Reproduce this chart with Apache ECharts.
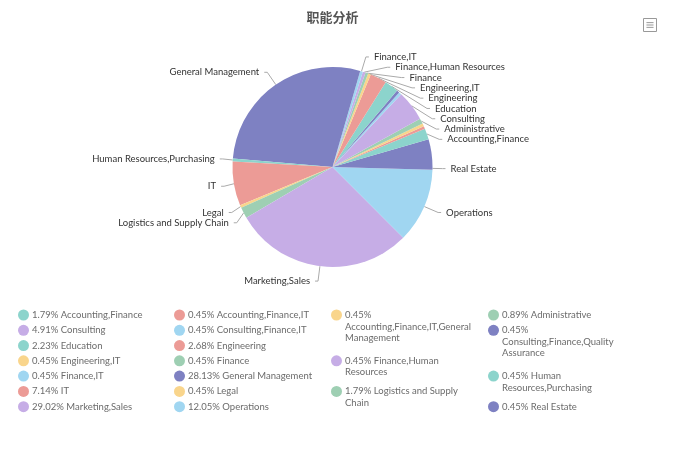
<!DOCTYPE html>
<html>
<head>
<meta charset="utf-8">
<script src="https://cdn.jsdelivr.net/npm/echarts@6/dist/echarts.min.js"></script>
<style>
html,body{margin:0;padding:0;background:#fff;}
#main{width:665px;height:450px;}
</style>
</head>
<body>
<div id="main"></div>
<script>
// ---- data ----
const titleText = '职能分析';
const categories = ['', 'Accounting,Finance', 'Accounting,Finance,IT', 'Accounting,Finance,IT,General Management',
  'Administrative', 'Consulting', 'Consulting,Finance,IT', 'Consulting,Finance,Quality Assurance', 'Education',
  'Engineering', 'Engineering,IT', 'Finance', 'Finance,Human Resources', 'Finance,IT', 'General Management',
  'Human Resources,Purchasing', 'IT', 'Legal', 'Logistics and Supply Chain', 'Marketing,Sales', 'Operations', 'Real Estate'];
const counts = [10, 4, 1, 1, 2, 11, 1, 1, 5, 6, 1, 1, 1, 1, 63, 1, 16, 1, 4, 65, 27, 1];
// pie labels not drawn in the reference
const unlabeled = ['', 'Accounting,Finance,IT', 'Accounting,Finance,IT,General Management',
  'Consulting,Finance,IT', 'Consulting,Finance,Quality Assurance'];
// legend text wrapping (text only)
const legendWrapped = {
  'Accounting,Finance,IT,General Management': '\nAccounting,Finance,IT,General\nManagement',
  'Consulting,Finance,Quality Assurance': '\nConsulting,Finance,Quality\nAssurance',
  'Finance,Human Resources': ' Finance,Human\nResources',
  'Human Resources,Purchasing': ' Human\nResources,Purchasing',
  'Logistics and Supply Chain': ' Logistics and Supply\nChain'
};

// ---- layout / style ----
const palette = ['#7e81c2', '#8cd4cc', '#ec9b96', '#f9d58c', '#9ecfb3', '#c6ade6', '#a0d6f1'];
const FONT = 'Lato, "Noto Sans CJK SC", sans-serif';
const FS = 9.5;
const colX = [18, 174, 331, 488];
const rowY0 = 315, rowStep = 15.28;
const legendSlot = {
  1: [0, 0], 2: [1, 0], 3: [2, 0], 4: [3, 0],
  5: [0, 1], 6: [1, 1], 7: [3, 1],
  8: [0, 2], 9: [1, 2],
  10: [0, 3], 11: [1, 3], 12: [2, 3],
  13: [0, 4], 14: [1, 4], 15: [3, 4],
  16: [0, 5], 17: [1, 5], 18: [2, 5],
  19: [0, 6], 20: [1, 6], 21: [3, 6]
};
const LH = 11.5, ICON = 11;

const total = counts.reduce((a, b) => a + b, 0);

const pieData = categories.map((name, i) => {
  const d = { name: name, value: counts[i], itemStyle: { color: palette[i % palette.length] } };
  if (unlabeled.indexOf(name) >= 0) { d.label = { show: false }; d.labelLine = { show: false }; }
  return d;
});

const legends = [];
categories.forEach((name, i) => {
  if (!legendSlot[i]) return;
  const pct = (counts[i] / total * 100).toFixed(2) + '%';
  const txt = pct + (legendWrapped[name] !== undefined ? legendWrapped[name] : ' ' + name);
  const lines = txt.split('\n');
  const nLines = lines.length;
  const rich = lines.map(l => '{t|' + l + '}').join('\n');
  const [c, r] = legendSlot[i];
  const y0 = rowY0 + r * rowStep;
  legends.push({
    data: [name],
    left: colX[c],
    top: y0 - (2 * nLines - 1) * LH / 2,
    padding: 0,
    icon: 'circle',
    itemWidth: ICON,
    itemHeight: ICON,
    selectedMode: false,
    formatter: () => rich,
    textStyle: {
      fontFamily: FONT, fontSize: FS, color: '#6b6b6b', lineHeight: LH,
      padding: [(nLines - 1) * LH, 0, 0, -2],
      rich: { t: { fontFamily: FONT, fontSize: FS, color: '#6b6b6b', lineHeight: LH } }
    }
  });
});

const chart = echarts.init(document.getElementById('main'), null, { renderer: 'canvas' });
chart.setOption({
  animation: false,
  color: palette,
  title: {
    text: titleText, left: 'center', top: 6,
    textStyle: { fontFamily: '"Noto Sans CJK SC", sans-serif', fontSize: 13, fontWeight: 'bold', color: '#555' }
  },
  toolbox: {
    right: -9, top: 1, itemSize: 13,
    iconStyle: { borderColor: '#999', borderWidth: 1 },
    feature: {
      dataView: { readOnly: true, icon: 'path://M1,1H23V23H1Z M6,8H18 M6,12H18 M6,16H18' }
    }
  },
  legend: legends,
  series: [{
    type: 'pie',
    center: ['50%', 167],
    radius: 100,
    startAngle: 0,
    clockwise: false,
    data: pieData,
    label: { fontFamily: FONT, fontSize: FS, lineHeight: 7.8, margin: 0.8, minMargin: 0.8, color: '#333' },
    labelLine: { length: 15, length2: 3, lineStyle: { color: '#aaa' } }
  }]
});
</script>
</body>
</html>
